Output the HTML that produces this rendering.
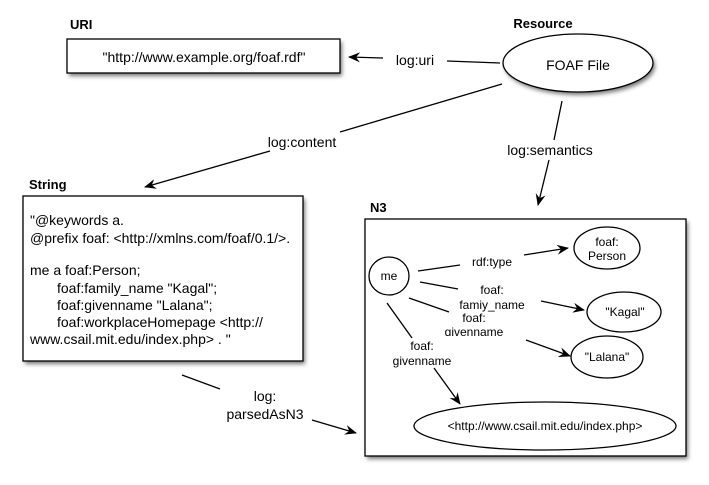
<!DOCTYPE html>
<html><head><meta charset="utf-8"><style>
html,body{margin:0;padding:0;background:#fff;}
svg{display:block;font-family:"Liberation Sans",sans-serif;}
text{fill:#000;}
.b{font-weight:bold;font-size:13px;}
.t{font-size:14px;}
.s{font-size:12px;}
</style></head><body>
<svg width="709" height="485" viewBox="0 0 709 485" xmlns="http://www.w3.org/2000/svg">
<defs>
<marker id="a" markerWidth="12" markerHeight="10" refX="11" refY="5" orient="auto" markerUnits="userSpaceOnUse">
<path d="M0,0 L12,5 L0,10 L4,5 Z" fill="#000"/>
</marker>
<filter id="sh" x="-10%" y="-10%" width="130%" height="140%"><feGaussianBlur stdDeviation="2"/></filter>
</defs>
<rect x="69" y="42" width="273" height="34" fill="#777" filter="url(#sh)"/>
<rect x="25" y="199" width="280" height="165" fill="#777" filter="url(#sh)"/>
<rect x="367" y="222" width="321" height="237" fill="#777" filter="url(#sh)"/>
<ellipse cx="580" cy="66" rx="75" ry="29" fill="#777" filter="url(#sh)"/>

<text class="b" x="70" y="29">URI</text>
<rect x="67" y="39" width="273" height="34" fill="#fff" stroke="#000" stroke-width="1.3"/>
<text class="t" x="204" y="62" text-anchor="middle">"http://www.example.org/foaf.rdf"</text>

<text class="b" x="543" y="28" text-anchor="middle">Resource</text>
<ellipse cx="578" cy="63" rx="75" ry="29" fill="#fff" stroke="#000" stroke-width="1.3"/>
<text class="t" x="578" y="70" text-anchor="middle">FOAF File</text>

<text class="t" x="415" y="65" text-anchor="middle">log:uri</text>
<line x1="383" y1="58" x2="349" y2="57" stroke="#000" stroke-width="1.3" marker-end="url(#a)"/>
<line x1="447" y1="61" x2="500" y2="63" stroke="#000" stroke-width="1.3"/>

<line x1="502" y1="84" x2="340" y2="132" stroke="#000" stroke-width="1.3"/>
<text class="t" x="302" y="147" text-anchor="middle">log:content</text>
<line x1="270" y1="151" x2="145" y2="187" stroke="#000" stroke-width="1.3" marker-end="url(#a)"/>

<line x1="562" y1="101" x2="554" y2="140" stroke="#000" stroke-width="1.3"/>
<text class="t" x="550" y="155" text-anchor="middle">log:semantics</text>
<line x1="549" y1="160" x2="538" y2="205" stroke="#000" stroke-width="1.3" marker-end="url(#a)"/>

<text class="b" x="29" y="189">String</text>
<rect x="23" y="196" width="280" height="165" fill="#fff" stroke="#000" stroke-width="1.3"/>
<g class="t">
<text x="30" y="225">"@keywords a.</text>
<text x="30" y="243">@prefix foaf: &lt;http://xmlns.com/foaf/0.1/&gt;.</text>
<text x="30" y="275">me  a foaf:Person;</text>
<text x="57" y="293">foaf:family_name "Kagal";</text>
<text x="57" y="310">foaf:givenname "Lalana";</text>
<text x="57" y="327">foaf:workplaceHomepage &lt;http://</text>
<text x="30" y="344">www.csail.mit.edu/index.php&gt; . "</text>
</g>

<line x1="182" y1="375" x2="220" y2="389" stroke="#000" stroke-width="1.3"/>
<text class="t" x="265" y="401" text-anchor="middle">log:</text>
<text class="t" x="265" y="419" text-anchor="middle">parsedAsN3</text>
<line x1="312" y1="420" x2="356" y2="433" stroke="#000" stroke-width="1.3" marker-end="url(#a)"/>

<text class="b" x="370" y="212">N3</text>
<rect x="365" y="219" width="321" height="237" fill="#fff" stroke="#000" stroke-width="1.3"/>

<ellipse cx="389" cy="276" rx="20" ry="19" fill="#fff" stroke="#000" stroke-width="1.3"/>
<text class="s" x="389" y="280" text-anchor="middle">me</text>
<ellipse cx="607" cy="248" rx="33" ry="21" fill="#fff" stroke="#000" stroke-width="1.3"/>
<text class="s" x="607" y="246" text-anchor="middle">foaf:</text>
<text class="s" x="607" y="260" text-anchor="middle">Person</text>
<ellipse cx="624" cy="312" rx="37" ry="20" fill="#fff" stroke="#000" stroke-width="1.3"/>
<text class="s" x="625" y="316" text-anchor="middle">"Kagal"</text>
<ellipse cx="607" cy="357" rx="36" ry="21" fill="#fff" stroke="#000" stroke-width="1.3"/>
<text class="s" x="607" y="361" text-anchor="middle">"Lalana"</text>
<ellipse cx="545" cy="426" rx="131" ry="24" fill="#fff" stroke="#000" stroke-width="1.3"/>
<text class="s" x="545" y="430" text-anchor="middle">&lt;http://www.csail.mit.edu/index.php&gt;</text>

<line x1="418" y1="271" x2="460" y2="265" stroke="#000" stroke-width="1.3"/>
<text class="s" x="492" y="266" text-anchor="middle">rdf:type</text>
<line x1="524" y1="255" x2="568" y2="248" stroke="#000" stroke-width="1.3" marker-end="url(#a)"/>

<line x1="420" y1="282" x2="458" y2="289" stroke="#000" stroke-width="1.3"/>
<text class="s" x="492" y="294" text-anchor="middle">foaf:</text>
<text class="s" x="492" y="309" text-anchor="middle">famiy_name</text>
<line x1="541" y1="301" x2="584" y2="310" stroke="#000" stroke-width="1.3" marker-end="url(#a)"/>

<line x1="409" y1="298" x2="449" y2="312" stroke="#000" stroke-width="1.3"/>
<text class="s" x="474" y="322" text-anchor="middle">foaf:</text>
<svg x="420" y="326" width="110" height="10" overflow="hidden"><text class="s" x="54" y="10" text-anchor="middle">givenname</text></svg>
<line x1="526" y1="340" x2="570" y2="356" stroke="#000" stroke-width="1.3" marker-end="url(#a)"/>

<line x1="387" y1="303" x2="412" y2="338" stroke="#000" stroke-width="1.3"/>
<text class="s" x="422" y="350" text-anchor="middle">foaf:</text>
<text class="s" x="422" y="365" text-anchor="middle">givenname</text>
<line x1="434" y1="368" x2="460" y2="404" stroke="#000" stroke-width="1.3" marker-end="url(#a)"/>
</svg>
</body></html>
